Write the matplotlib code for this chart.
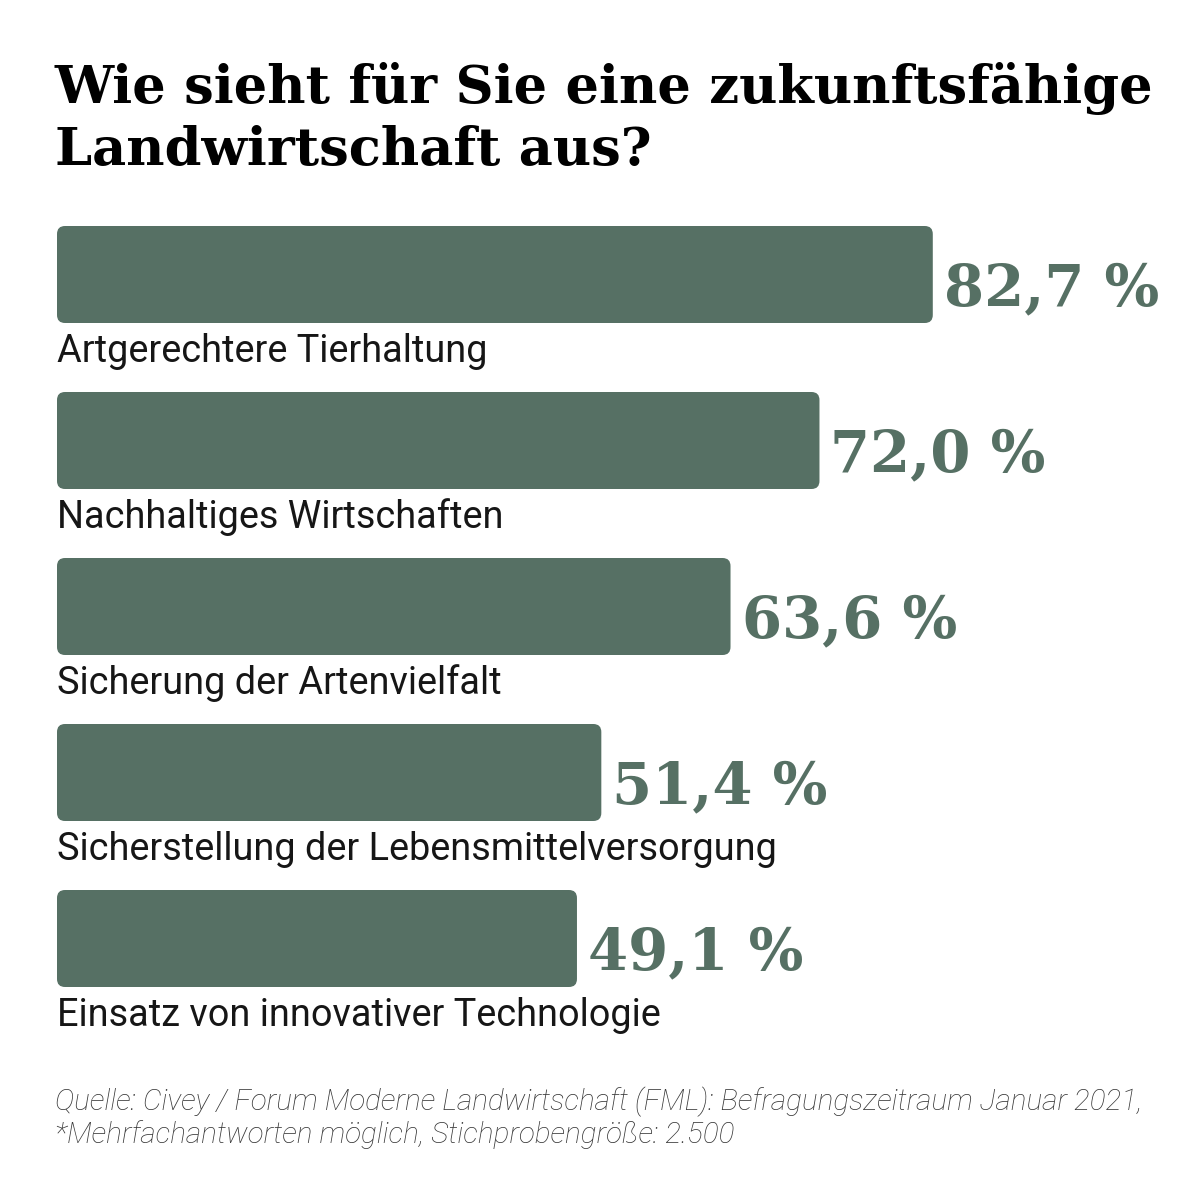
import matplotlib
matplotlib.use("Agg")
import matplotlib.pyplot as plt
from matplotlib.patches import FancyBboxPatch

# data
categories = [
    "Artgerechtere Tierhaltung",
    "Nachhaltiges Wirtschaften",
    "Sicherung der Artenvielfalt",
    "Sicherstellung der Lebensmittelversorgung",
    "Einsatz von innovativer Technologie",
]
values = [82.7, 72.0, 63.6, 51.4, 49.1]
value_labels = ["82,7 %", "72,0 %", "63,6 %", "51,4 %", "49,1 %"]

title_lines = ["Wie sieht für Sie eine zukunftsfähige", "Landwirtschaft aus?"]
source_lines = [
    "Quelle: Civey / Forum Moderne Landwirtschaft (FML): Befragungszeitraum Januar 2021,",
    "*Mehrfachantworten möglich, Stichprobengröße: 2.500",
]

bar_color = "#567064"
W = H = 1200

fig = plt.figure(figsize=(12, 12), dpi=100)
fig.patch.set_facecolor("white")

# axes: x 0..100 % -> 57px .. 1116px ; y rows 166px apart
ax = fig.add_axes([57 / W, 1 - 1021.5 / H, 1059 / W, 830 / H])
ax.set_xlim(0, 100)
ax.set_ylim(4.5, -0.5)
ax.axis("off")

bar_h = 97 / 166
bars = ax.barh(range(len(values)), values, height=bar_h, color="none")

px_x = 100 / 1059  # data units per px
px_y = 1 / 166
r = 8 * px_x
for b in bars:
    x0, y0 = b.get_x(), b.get_y()
    w, h = b.get_width(), b.get_height()
    patch = FancyBboxPatch((x0, y0), w, h,
                           boxstyle=f"round,pad=0,rounding_size={r}",
                           mutation_aspect=px_y / px_x,
                           facecolor=bar_color, edgecolor="none")
    ax.add_patch(patch)

for i, (cat, v, lab) in enumerate(zip(categories, values, value_labels)):
    ax.text(0, i + 87.5 * px_y, cat, fontsize=27.3, family="Roboto",
            color="#161616", ha="left", va="baseline")
    ax.text(v + 11 * px_x, i + 30.5 * px_y, lab, fontsize=41.5,
            family="DejaVu Serif", weight="bold", color=bar_color,
            ha="left", va="baseline")

fig.text(55 / W, 1 - 103 / H, title_lines[0], fontsize=38, family="DejaVu Serif",
         weight="bold", color="black", ha="left", va="baseline")
fig.text(55 / W, 1 - 165 / H, title_lines[1], fontsize=38, family="DejaVu Serif",
         weight="bold", color="black", ha="left", va="baseline")

fig.text(55 / W, 1 - 1110 / H, source_lines[0], fontsize=21.3, family="Roboto",
         style="italic", weight="light", color="#363636", ha="left", va="baseline")
fig.text(55 / W, 1 - 1143 / H, source_lines[1], fontsize=21.3, family="Roboto",
         style="italic", weight="light", color="#363636", ha="left", va="baseline")

fig.savefig("out.png", dpi=100, facecolor="white")
